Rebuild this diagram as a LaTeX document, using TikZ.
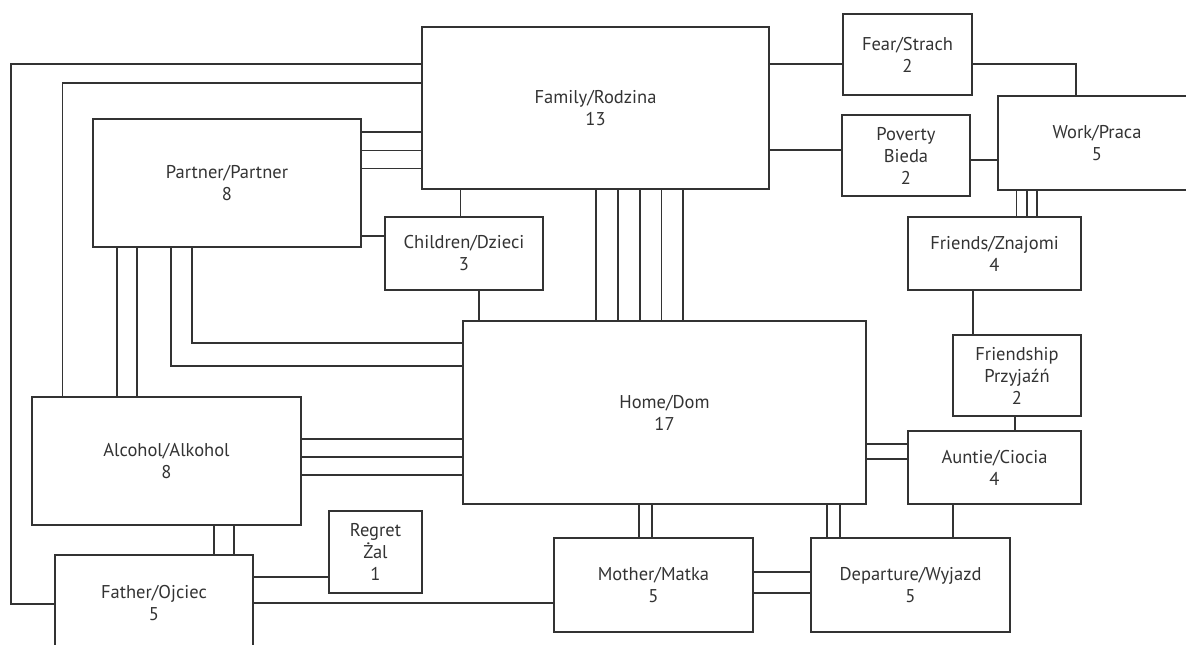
\documentclass[tikz,border=0pt]{standalone}
\usepackage{fontspec}
\setmainfont{PT Sans}
\usetikzlibrary{positioning}
\definecolor{lnkgray}{RGB}{51,51,51}

\begin{document}
\begin{tikzpicture}[x=1pt,y=-1pt,
  box/.style={draw=lnkgray,line width=1.1pt,align=center,inner sep=0pt,outer sep=0pt,
    text=lnkgray,font=\fontsize{18.5}{22}\selectfont},
  link/.style={draw=lnkgray,line width=1.1pt}]
  \useasboundingbox (0,0) rectangle (1186,645);
  % boxes
  \node[box,minimum width=347,minimum height=162] (family) at (595.5,108) {Family/Rodzina\\13};
  \node[box,minimum width=268,minimum height=128] (partner) at (227,183) {Partner/Partner\\8};
  \node[box,minimum width=158,minimum height=73] (children) at (464,253.5) {Children/Dzieci\\3};
  \node[box,minimum width=403,minimum height=183] (home) at (664.5,412.5) {Home/Dom\\17};
  \node[box,minimum width=269,minimum height=128] (alcohol) at (166.5,461) {Alcohol/Alkohol\\8};
  \node[box,minimum width=198,minimum height=97] (father) at (154,603.5) {Father/Ojciec\\5};
  \node[box,minimum width=93,minimum height=82] (regret) at (375.5,552) {Regret\\Żal\\1};
  \node[box,minimum width=199,minimum height=94] (mother) at (653.5,585) {Mother/Matka\\5};
  \node[box,minimum width=199,minimum height=94] (departure) at (910.5,585) {Departure/Wyjazd\\5};
  \node[box,minimum width=173,minimum height=73] (auntie) at (994.5,467.5) {Auntie/Ciocia\\4};
  \node[box,minimum width=128,minimum height=81] (friendship) at (1017,375.5) {Friendship\\Przyjaźń\\2};
  \node[box,minimum width=173,minimum height=73] (friends) at (994.5,253.5) {Friends/Znajomi\\4};
  \node[box,minimum width=198,minimum height=94] (work) at (1097,143) {Work/Praca\\5};
  \node[box,minimum width=129,minimum height=81] (fear) at (907.5,54.5) {Fear/Strach\\2};
  \node[box,minimum width=128,minimum height=81] (poverty) at (906,155.5) {Poverty\\Bieda\\2};

  % long links round the left side
  \draw[link] (family.west |- 0,64) -- (11,64) -- (11,604) -- (father.west |- 0,604);
  \draw[link] (family.west |- 0,83) -- (62.5,83) -- (alcohol.north -| 62.5,0);
  \draw[link] (partner.south -| 192,0) -- (192,343) -- (home.west |- 0,343);
  \draw[link] (partner.south -| 171,0) -- (171,366) -- (home.west |- 0,366);
  \draw[link] (fear.east |- 0,64) -- (1076,64) -- (work.north -| 1076,0);

  % straight links
  \foreach \y in {132,150.5,168.5}
    \draw[link] (partner.east |- 0,\y) -- (family.west |- 0,\y);
  \draw[link] (partner.east |- 0,236) -- (children.west |- 0,236);
  \draw[link] (family.south -| 460.5,0) -- (children.north -| 460.5,0);
  \draw[link] (children.south -| 479,0) -- (home.north -| 479,0);
  \foreach \x in {596,618,640,661.5,683}
    \draw[link] (family.south -| \x,0) -- (home.north -| \x,0);
  \foreach \x in {117,137}
    \draw[link] (partner.south -| \x,0) -- (alcohol.north -| \x,0);
  \foreach \y in {439,457,475}
    \draw[link] (alcohol.east |- 0,\y) -- (home.west |- 0,\y);
  \foreach \x in {214,234}
    \draw[link] (alcohol.south -| \x,0) -- (father.north -| \x,0);
  \draw[link] (father.east |- 0,577) -- (regret.west |- 0,577);
  \draw[link] (father.east |- 0,603) -- (mother.west |- 0,603);
  \foreach \x in {639,652}
    \draw[link] (home.south -| \x,0) -- (mother.north -| \x,0);
  \foreach \y in {572,593}
    \draw[link] (mother.east |- 0,\y) -- (departure.west |- 0,\y);
  \foreach \x in {827,840}
    \draw[link] (home.south -| \x,0) -- (departure.north -| \x,0);
  \foreach \y in {444,459}
    \draw[link] (home.east |- 0,\y) -- (auntie.west |- 0,\y);
  \draw[link] (auntie.south -| 953,0) -- (departure.north -| 953,0);
  \draw[link] (friendship.south -| 1015,0) -- (auntie.north -| 1015,0);
  \draw[link] (friends.south -| 973,0) -- (friendship.north -| 973,0);
  \foreach \x in {1016.5,1027,1037}
    \draw[link] (work.south -| \x,0) -- (friends.north -| \x,0);
  \draw[link] (family.east |- 0,64) -- (fear.west |- 0,64);
  \draw[link] (family.east |- 0,150) -- (poverty.west |- 0,150);
  \draw[link] (poverty.east |- 0,160) -- (work.west |- 0,160);
\end{tikzpicture}
\end{document}
